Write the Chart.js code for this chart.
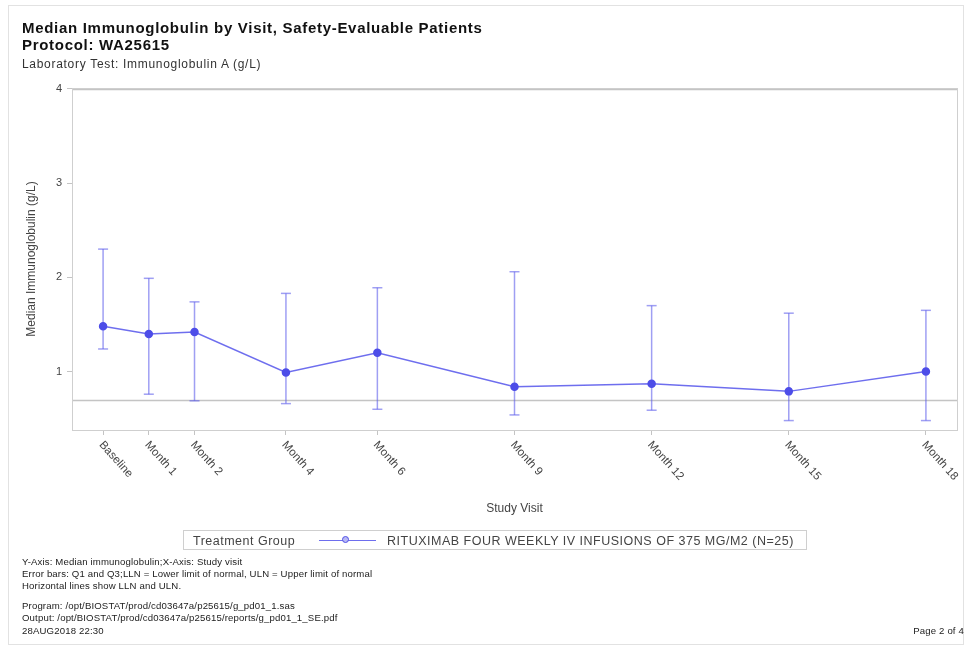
<!DOCTYPE html>
<html>
<head>
<meta charset="utf-8">
<title>Median Immunoglobulin by Visit</title>
<script src="https://cdn.jsdelivr.net/npm/chart.js@4.4.1/dist/chart.umd.min.js"></script>
<style>
  html, body { margin: 0; padding: 0; background: #fff; }
  #page { position: relative; width: 968px; height: 649px; overflow: hidden; font-family: "Liberation Sans", Arial, sans-serif; color: #111; }
  #frame { position: absolute; left: 8px; top: 5px; width: 956px; height: 640px; border: 1px solid #e2e2e2; box-sizing: border-box; }
  #chart { position: absolute; left: 0; top: 0; }
  .t { position: absolute; white-space: nowrap; line-height: 1; }
  .title { font-weight: bold; font-size: 15px; letter-spacing: 0.7px; color: #111; }
  .sub { font-size: 12px; letter-spacing: 0.7px; color: #333; }
  .foot { font-size: 9.6px; letter-spacing: 0.15px; color: #222; }
  #legend { position: absolute; left: 183px; top: 530px; width: 624px; height: 20px; border: 1px solid #cfcfcf; box-sizing: border-box; font-size: 12.5px; letter-spacing: 0.5px; color: #444; }
  #legend .lab { position: absolute; top: 3px; white-space: nowrap; }
  #legend .ln { position: absolute; left: 135px; top: 9px; width: 57px; height: 0; border-top: 1.5px solid rgba(85,85,235,0.85); }
  #legend .dot { position: absolute; left: 158px; top: 5px; width: 7px; height: 7px; border-radius: 50%; border: 1.5px solid #5050e6; background: #b8b8f4; box-sizing: border-box; }
</style>
</head>
<body>
<div id="page">
  <div id="frame"></div>
  <canvas id="chart" width="968" height="649"></canvas>
  <div class="t title" style="left:22px; top:20px;">Median Immunoglobulin by Visit, Safety-Evaluable Patients</div>
  <div class="t title" style="left:22px; top:37px;">Protocol: WA25615</div>
  <div class="t sub" style="left:22px; top:58px;">Laboratory Test: Immunoglobulin A (g/L)</div>
  <div id="legend">
    <span class="lab" style="left:9px;">Treatment Group</span>
    <span class="ln"></span>
    <span class="dot"></span>
    <span class="lab" style="left:203px;">RITUXIMAB FOUR WEEKLY IV INFUSIONS OF 375 MG/M2 (N=25)</span>
  </div>
  <div class="t foot" style="left:22px; top:557px;">Y-Axis: Median immunoglobulin;X-Axis: Study visit</div>
  <div class="t foot" style="left:22px; top:569px;">Error bars: Q1 and Q3;LLN = Lower limit of normal, ULN = Upper limit of normal</div>
  <div class="t foot" style="left:22px; top:581px;">Horizontal lines show LLN and ULN.</div>
  <div class="t foot" style="left:22px; top:601px;">Program: /opt/BIOSTAT/prod/cd03647a/p25615/g_pd01_1.sas</div>
  <div class="t foot" style="left:22px; top:613px;">Output: /opt/BIOSTAT/prod/cd03647a/p25615/reports/g_pd01_1_SE.pdf</div>
  <div class="t foot" style="left:22px; top:626px;">28AUG2018 22:30</div>
  <div class="t foot" style="right:4px; top:626px;">Page 2 of 4</div>
</div>
<script>
// Study visits (months from baseline) and their axis labels
const visitLabels = ['Baseline', 'Month 1', 'Month 2', 'Month 4', 'Month 6', 'Month 9', 'Month 12', 'Month 15', 'Month 18'];
const visitMonths = [0, 1, 2, 4, 6, 9, 12, 15, 18];

// Immunoglobulin A (g/L): median with Q1 / Q3 error bars
const medianValues = [1.48, 1.40, 1.42, 0.99, 1.20, 0.84, 0.87, 0.79, 1.00];
const q1Values     = [1.24, 0.76, 0.69, 0.66, 0.60, 0.54, 0.59, 0.48, 0.48];
const q3Values     = [2.30, 1.99, 1.74, 1.83, 1.89, 2.06, 1.70, 1.62, 1.65];

// Normal range reference lines
const lowerLimitNormal = 0.7;
const upperLimitNormal = 4.0;

const yTickValues = [1, 2, 3, 4];

const LINE_BLUE = 'rgba(85, 85, 235, 0.85)';
const BAR_BLUE = 'rgba(95, 95, 235, 0.6)';
const GREY = '#c4c4c4';
const FONT_FAMILY = '"Liberation Sans", Arial, sans-serif';

const datasets = [{
  label: 'RITUXIMAB FOUR WEEKLY IV INFUSIONS OF 375 MG/M2 (N=25)',
  data: visitMonths.map((m, i) => ({ x: m, y: medianValues[i] })),
  borderColor: LINE_BLUE,
  borderWidth: 1.5,
  pointRadius: 3.5,
  pointBackgroundColor: '#4d4de8',
  pointBorderColor: '#4d4de8',
  showLine: true,
  tension: 0
}];

// One vertical whisker per visit, capped at Q1 and Q3
visitMonths.forEach((m, i) => {
  datasets.push({
    label: 'Q1-Q3 ' + visitLabels[i],
    data: [{ x: m, y: q1Values[i] }, { x: m, y: q3Values[i] }],
    borderColor: BAR_BLUE,
    borderWidth: 1.5,
    pointStyle: 'line',
    pointRadius: 5,
    pointBorderColor: BAR_BLUE,
    pointBorderWidth: 1.5,
    showLine: true
  });
});

// Reference lines and plot frame
const referenceLines = {
  id: 'referenceLines',
  beforeDatasetsDraw(chart) {
    const { ctx, chartArea: a, scales: { y } } = chart;
    ctx.save();
    ctx.strokeStyle = GREY;
    ctx.lineWidth = 1.5;
    [lowerLimitNormal, upperLimitNormal].forEach(v => {
      const py = Math.round(y.getPixelForValue(v)) + 0.5;
      ctx.beginPath();
      ctx.moveTo(a.left, py);
      ctx.lineTo(a.right, py);
      ctx.stroke();
    });
    ctx.lineWidth = 1;
    ctx.strokeStyle = '#cfcfcf';
    ctx.strokeRect(a.left + 0.5, a.top + 0.5, a.right - a.left, a.bottom - a.top);
    ctx.restore();
  }
};

// Slanted visit labels hanging below each tick
const slantedVisitLabels = {
  id: 'slantedVisitLabels',
  afterDraw(chart) {
    const { ctx, chartArea: a, scales: { x } } = chart;
    ctx.save();
    ctx.font = '11.5px ' + FONT_FAMILY;
    ctx.fillStyle = '#444';
    ctx.textAlign = 'left';
    ctx.textBaseline = 'middle';
    visitMonths.forEach((m, i) => {
      const px = x.getPixelForValue(m);
      ctx.save();
      ctx.translate(px - 2, a.bottom + 13);
      ctx.rotate(48 * Math.PI / 180);
      ctx.fillText(visitLabels[i], 0, 0);
      ctx.restore();
    });
    ctx.restore();
  }
};

new Chart(document.getElementById('chart'), {
  type: 'scatter',
  data: { datasets },
  options: {
    responsive: false,
    animation: false,
    devicePixelRatio: 1,
    layout: { padding: { left: 20, top: 88, right: 11, bottom: 129 } },
    plugins: {
      legend: { display: false },
      tooltip: { enabled: false }
    },
    scales: {
      x: {
        type: 'linear',
        min: -0.68,
        max: 18.68,
        afterBuildTicks: s => { s.ticks = visitMonths.map(v => ({ value: v })); },
        afterFit: s => { s.height = 90; },
        ticks: { callback: () => '', autoSkip: false, maxRotation: 0, minRotation: 0 },
        grid: { drawOnChartArea: false, drawTicks: true, tickLength: 5, color: GREY },
        border: { color: GREY },
        title: {
          display: true,
          text: 'Study Visit',
          color: '#444',
          font: { family: FONT_FAMILY, size: 12 },
          padding: { top: 0, bottom: 4 }
        }
      },
      y: {
        type: 'linear',
        min: 0.38,
        max: 4.01,
        afterBuildTicks: s => { s.ticks = yTickValues.map(v => ({ value: v })); },
        afterFit: s => { s.width = 52; },
        ticks: {
          color: '#444',
          padding: 5,
          font: { family: FONT_FAMILY, size: 11 }
        },
        grid: { drawOnChartArea: false, drawTicks: true, tickLength: 5, color: GREY },
        border: { color: GREY },
        title: {
          display: true,
          text: 'Median Immunoglobulin (g/L)',
          color: '#444',
          font: { family: FONT_FAMILY, size: 12 },
          padding: { top: 4, bottom: 0 }
        }
      }
    }
  },
  plugins: [referenceLines, slantedVisitLabels]
});
</script>
</body>
</html>
